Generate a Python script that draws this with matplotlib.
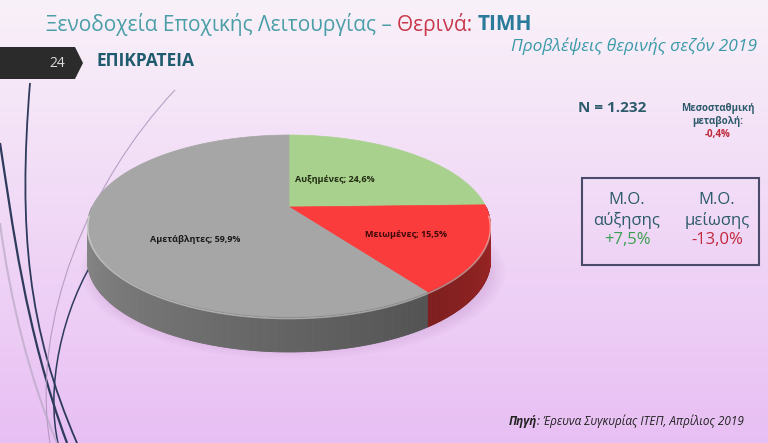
import numpy as np
import matplotlib
matplotlib.use("Agg")
import matplotlib.pyplot as plt
from matplotlib.patches import Polygon, Rectangle, Ellipse
from matplotlib.path import Path
from matplotlib.patches import PathPatch
from matplotlib.colors import to_rgb

plt.rcParams['font.family'] = ['Open Sans', 'DejaVu Sans']

# Data
names = ['Αυξημένες', 'Μειωμένες', 'Αμετάβλητες']
shares = [24.6, 15.5, 59.9]
colors = ['#a9d18e', '#fb3c3c', '#a6a6a6']
label_colors = ['#1f2a10', '#3a0808', '#1a1a1a']

n_total = '1.232'
avg_change = '-0,4%'
avg_up = '+7,5%'
avg_down = '-13,0%'

# pie geometry (pixels) and label placement
cx, cy, R, H, k, D = 289, 207, 197, 87, 0.209, 35
label_r = [0.42, 0.63, 0.56]
label_t = [36, 118, 232]


def proj(r, t):
    t = np.radians(t)
    u, v = r * np.sin(t), r * np.cos(t)
    s = 1.0 / (1.0 + k * v)
    return cx + R * u * s, cy - H * v * s


def shade(c, f):
    return tuple(np.clip(np.array(to_rgb(c)) * f, 0, 1))


fig = plt.figure(figsize=(7.68, 4.43), dpi=100)
ax = fig.add_axes([0, 0, 1, 1])
ax.set_xlim(0, 768)
ax.set_ylim(443, 0)
ax.axis('off')

# background gradient
top = np.array([0.975, 0.945, 0.975])
bot = np.array([0.91, 0.75, 0.955])
g = np.linspace(0, 1, 256)[:, None, None]
grad = top + (bot - top) * g
grad = np.repeat(grad, 2, axis=1)
ax.imshow(grad, extent=[0, 768, 443, 0], aspect='auto', zorder=0)

# decorative curves on the left
curves = [
    ([(30, 83), (18, 230), (28, 330), (77, 443)], '#2e3b5c', 1.3, 1.0),
    ([(0, 143), (12, 220), (25, 330), (67, 443)], '#2e3b5c', 1.6, 1.0),
    ([(100, 250), (60, 310), (46, 390), (58, 443)], '#2e3b5c', 1.1, 1.0),
    ([(175, 90), (90, 180), (30, 320), (50, 443)], '#a890b8', 0.8, 0.8),
    ([(0, 223), (10, 300), (30, 380), (57, 443)], '#b8a8c4', 1.5, 0.7),
]
for pts, col, lw, al in curves:
    path = Path(pts, [Path.MOVETO, Path.CURVE4, Path.CURVE4, Path.CURVE4])
    ax.add_patch(PathPatch(path, fc='none', ec=col, lw=lw, alpha=al, zorder=1))

# soft shadow under the pie
for i in range(6):
    ax.add_patch(Ellipse((cx + 4, cy + 30 + D), 2 * R + 30 - i * 6, 175 - i * 5,
                         fc='#9a6aa8', ec='none', alpha=0.035, zorder=2))

# slice angles (clockwise from 12 o'clock)
bounds = np.concatenate([[0], np.cumsum(shares)]) * 3.6

# side walls
segs = []
for i in range(len(shares)):
    t0, t1 = max(bounds[i], 90), min(bounds[i + 1], 270)
    if t1 <= t0:
        continue
    ts = np.linspace(t0, t1, max(int((t1 - t0) * 2), 2))
    for a, b in zip(ts[:-1], ts[1:]):
        segs.append((np.cos(np.radians((a + b) / 2)), a, b, colors[i]))
segs.sort(key=lambda s: -s[0])
for _, a, b, col in segs:
    tm = (a + b) / 2
    f = 0.5 + 0.35 * abs(tm - 145) / 125
    xa, ya = proj(1, a)
    xb, yb = proj(1, b)
    ax.add_patch(Polygon([(xa, ya), (xb, yb), (xb, yb + D), (xa, ya + D)],
                         closed=True, fc=shade(col, f), ec=shade(col, f), lw=0.6, zorder=3))

# top faces
for i in range(len(shares)):
    ts = np.linspace(bounds[i], bounds[i + 1], 200)
    xs, ys = proj(1, ts)
    pts = [(cx, cy)] + list(zip(xs, ys))
    ax.add_patch(Polygon(pts, closed=True, fc=colors[i], ec=colors[i], lw=0.5, zorder=4))

# rim highlight
ts = np.linspace(95, 265, 300)
xs, ys = proj(1, ts)
ax.plot(xs, ys + 1.5, color='white', alpha=0.45, lw=1.2, zorder=5)

# slice labels
for i in range(len(shares)):
    lx, ly = proj(label_r[i], label_t[i])
    ax.text(lx, ly, f'{names[i]}; {shares[i]:.1f}%'.replace('.', ','),
            ha='center', va='center', fontsize=6.5, fontweight='bold',
            color=label_colors[i], zorder=6)

# header
fig.canvas.draw()
renderer = fig.canvas.get_renderer()
inv = ax.transData.inverted()


def chain(parts, x, y, **kw):
    for txt, opts in parts:
        t = ax.text(x, y, txt, ha='left', va='center', **kw, **opts)
        bb = t.get_window_extent(renderer)
        x = inv.transform((bb.x1, bb.y0))[0]


chain([('Ξενοδοχεία Εποχικής Λειτουργίας – ', dict(color='#4a9ea8')),
       ('Θερινά: ', dict(color='#c8374a')),
       ('ΤΙΜΗ', dict(color='#2a7a9a', fontweight='bold'))],
      46, 24, fontsize=15)

ax.text(757, 46, 'Προβλέψεις θερινής σεζόν 2019', ha='right', va='center',
        fontsize=12.5, style='italic', color='#3a9aa8')

ax.add_patch(Polygon([(0, 47), (75, 47), (83, 63), (75, 79), (0, 79)],
                     closed=True, fc='#2b2b2b', ec='none', zorder=3))
ax.text(57, 63.5, '24', ha='center', va='center', fontsize=10, color='#dcdcdc', zorder=4)
ax.text(96, 61, 'ΕΠΙΚΡΑΤΕΙΑ', ha='left', va='center', fontsize=12.5,
        fontweight='bold', color='#1e5b6e', zorder=4)

# right panel
teal = '#2d5b6b'
ax.text(612, 108, f'N = {n_total}', ha='center', va='center', fontsize=11,
        fontweight='bold', color=teal)
ax.text(718, 108, 'Μεσοσταθμική', ha='center', va='center', fontsize=7,
        fontweight='bold', color=teal)
ax.text(718, 121, 'μεταβολή:', ha='center', va='center', fontsize=7,
        fontweight='bold', color=teal)
ax.text(718, 134, avg_change, ha='center', va='center', fontsize=7,
        fontweight='bold', color='#c0283a')

ax.add_patch(Rectangle((582, 178), 177, 87, fill=False, ec='#4a4a6a', lw=1.5, zorder=3))
for x0, word, val, vc in [(627, 'αύξησης', avg_up, '#3aa050'),
                          (717, 'μείωσης', avg_down, '#c0283a')]:
    ax.text(x0, 200, 'Μ.Ο.', ha='center', va='center', fontsize=12, color=teal)
    ax.text(x0, 220, word, ha='center', va='center', fontsize=12, color=teal)
    ax.text(x0, 240, val, ha='center', va='center', fontsize=12, color=vc)

# footer: right-aligned, built from the right end
src = ax.text(744, 421, ': Έρευνα Συγκυρίας ΙΤΕΠ, Απρίλιος 2019', ha='right', va='center',
              fontsize=8.5, style='italic', color='#222222')
bb = src.get_window_extent(renderer)
x_left = inv.transform((bb.x0, bb.y0))[0]
ax.text(x_left, 421, 'Πηγή', ha='right', va='center', fontsize=8.5, style='italic',
        fontweight='bold', color='#222222')

plt.savefig('out.png', dpi=100)
